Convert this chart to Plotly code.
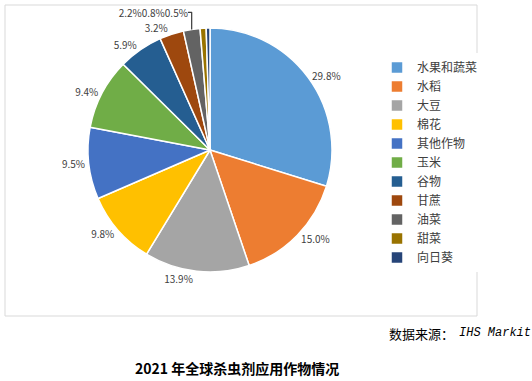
import plotly.graph_objects as go

crops = ["水果和蔬菜", "水稻", "大豆", "棉花", "其他作物", "玉米", "谷物", "甘蔗", "油菜", "甜菜", "向日葵"]
shares = [29.8, 15.0, 13.9, 9.8, 9.5, 9.4, 5.9, 3.2, 2.2, 0.8, 0.5]
colors = ["#5B9BD5", "#ED7D31", "#A5A5A5", "#FFC000", "#4472C4", "#70AD47",
          "#255E91", "#9E480E", "#636363", "#997300", "#264478"]

# the three smallest slice labels overlap in the reference; show them as one run of text
labels_text = [f"{v:.1f}%" for v in shares]
labels_text[8] = "".join(labels_text[8:])
labels_text[9] = ""
labels_text[10] = ""

W, H = 532, 381
def px(x): return x / W
def py(y): return 1 - y / H

fig = go.Figure(go.Pie(
    labels=crops, values=shares, sort=False, direction="clockwise", rotation=0,
    marker=dict(colors=colors, line=dict(color="white", width=1.5)),
    text=labels_text, texttemplate="%{text}", textposition="outside",
    textfont=dict(family="Noto Sans CJK SC, DejaVu Sans", size=10, color="#404040"),
    domain=dict(x=[px(88), px(332)], y=[py(272), py(28)]),
    automargin=False,
    showlegend=True,
))

fig.update_layout(
    width=W, height=H, autosize=False, margin=dict(l=0, r=0, t=0, b=0, pad=0),
    paper_bgcolor="white", plot_bgcolor="white",
    font=dict(family="Noto Sans CJK SC, DejaVu Sans", color="#404040"),
    legend=dict(x=px(377), y=py(53), xanchor="left", yanchor="top",
                font=dict(size=12, color="#404040"), tracegroupgap=0,
                itemwidth=30, traceorder="normal"),
    shapes=[dict(type="rect", xref="paper", yref="paper",
                 x0=px(5), x1=px(477), y0=py(316), y1=py(5),
                 line=dict(color="#D9D9D9", width=1))],
    annotations=[
        dict(text="数据来源：", x=px(456), y=py(333), xref="paper", yref="paper",
             xanchor="right", yanchor="middle", showarrow=False,
             font=dict(family="Noto Sans CJK SC", size=13, color="black")),
        dict(text="<i>IHS Markit</i>", x=px(457), y=py(333), xref="paper", yref="paper",
             xanchor="left", yanchor="middle", showarrow=False,
             font=dict(family="Liberation Mono", size=12, color="black")),
        dict(text="<b>2021 年全球杀虫剂应用作物情况</b>", x=px(237), y=py(368), xref="paper", yref="paper",
             xanchor="center", yanchor="middle", showarrow=False,
             font=dict(family="Noto Sans CJK SC", size=14, color="black")),
    ],
)
fig.write_html("out.html", config={"displayModeBar": False},
               post_script="document.body.style.margin='0';")
